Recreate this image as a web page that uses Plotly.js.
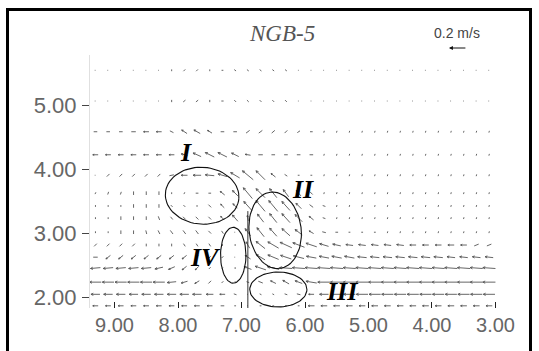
<!DOCTYPE html>
<html><head><meta charset="utf-8">
<script src="https://cdn.plot.ly/plotly-3.0.1.min.js"></script>
<style>html,body{margin:0;padding:0;background:#fff}#chart{width:539px;height:351px}</style>
</head><body><div id="chart"></div>
<script>
// ---- data ----
const colX = [9.3,9.1,8.9,8.7,8.5,8.3,8.1,7.9,7.7,7.5,7.3,7.1,6.9,6.7,6.5,6.3,6.1,5.9,5.7,5.5,5.3,5.1,4.9,4.7,4.5,4.3,4.1,3.9,3.7,3.5,3.3,3.1];
const rowY = [5.55,5.07,4.59,4.23,3.91,3.63,3.43,3.24,3.02,2.82,2.63,2.46,2.24,2.05,1.87];
// U: velocity along +x (m/s), V: velocity along +y (m/s)
const U = [
[0.01,0.01,0.01,0.01,0.01,0.01,0,0.02,0.02,0,0.02,0.02,0.02,0.02,0.02,0.02,0.01,0.01,0.01,0.01,0.01,0.01,0.01,0.01,0.01,0.01,0.01,0.01,0.01,0.01,0.01,0.01],
[0.01,0.01,0.01,0.01,0.01,0.01,0,0.025,0.025,0,0.025,0.02,0.02,0.02,0.02,0.02,0.01,0.01,0.01,0.01,0.01,0.01,0.01,0.01,0.01,0.01,0.01,0.01,0.01,0.01,0.01,0.01],
[0.04,0.04,0.04,0.05,0.06,0.06,0.04,0.06,0.07,0.05,0.04,0.04,0.04,0.04,0.035,0.03,0.03,0.03,0.005,0.005,0.005,0.005,0.005,0.005,0.005,0.005,0.005,0.005,0.005,0.005,0.005,0.005],
[0.06,0.06,0.06,0.06,0.06,0.06,0.06,0.07,0.09,0.1,0.1,0.08,0.06,0.05,0.04,0.04,0.04,0.04,0.005,0.005,0.005,0.005,0.005,0.005,0.005,0.005,0.005,0.005,0.005,0.005,0.005,0.005],
[0.01,0.03,0.03,0.03,0.03,0.03,0.05,0.07,0.09,0.1,0.1,0.1,0.12,0.1,0.05,0.03,0.02,0.02,0.005,0.005,0.005,0.005,0.005,0.005,0.005,0.005,0.005,0.005,0.005,0.005,0.005,0.005],
[0.01,0.01,0.01,0,0,0,0,0.01,0.03,0.03,0.05,0.06,0.1,0.1,0.08,0.06,0.05,0.03,0.005,0.005,0.005,0.005,0.005,0.005,0.005,0.005,0.005,0.005,0.005,0.005,0.005,0.005],
[0,0,0,0,0,0,0.02,0.02,0.02,0.03,0.04,0.05,0.09,0.1,0.1,0.09,0.06,0.04,0.03,0.005,0.005,0.005,0.005,0.005,0.005,0.005,0.005,0.005,0.005,0.005,0.005,0.005],
[0,0,0,0,0,-0.015,-0.025,-0.03,-0.03,-0.03,0.04,0.06,0.01,0.07,0.08,0.09,0.08,0.05,0.03,0.005,0.005,0.005,0.005,0.005,0.005,0.005,0.005,0.005,0.005,0.005,0.005,0.005],
[0,0,0,0,-0.01,-0.02,-0.03,-0.03,-0.03,-0.03,-0.02,0,0.06,0.08,0.08,0.09,0.08,0.05,0.04,0.03,0.02,0.02,0.02,0.005,0.005,0.005,0.005,0.005,0.005,0.005,0.005,0.005],
[0.03,0.03,0.03,0.03,0,0,0,-0.02,-0.02,-0.02,0,0,0.04,0.1,0.12,0.13,0.13,0.12,0.1,0.09,0.08,0.08,0.08,0.08,0.08,0.07,0.07,0.07,0.07,0.07,0.05,0.05],
[0.05,0.05,0.05,0.05,0.05,0.05,0.05,0.05,0.03,0.02,0.02,0,0.06,0.1,0.12,0.12,0.12,0.11,0.11,0.11,0.11,0.1,0.1,0.1,0.1,0.1,0.1,0.1,0.09,0.09,0.09,0.09],
[0.11,0.11,0.11,0.11,0.11,0.09,0.07,0.05,0.04,0.02,0.01,0,0.08,0.12,0.13,0.14,0.14,0.14,0.14,0.14,0.14,0.14,0.14,0.14,0.14,0.14,0.14,0.14,0.14,0.14,0.14,0.14],
[0.13,0.13,0.13,0.13,0.13,0.13,0.1,0.07,0.05,0.03,0.02,0,0.03,0.05,0.06,0.07,0.08,0.12,0.14,0.14,0.14,0.14,0.14,0.14,0.14,0.14,0.14,0.14,0.14,0.14,0.14,0.14],
[0.1,0.1,0.1,0.1,0.1,0.1,0.1,0.1,0.1,0.08,0.06,0.03,0.01,0.02,0.02,0.03,0.04,0.06,0.1,0.13,0.13,0.13,0.13,0.13,0.13,0.13,0.13,0.13,0.13,0.13,0.13,0.13],
[0.06,0.06,0.06,0.06,0.06,0.06,0.06,0.06,0.06,0.06,0.04,0.02,0.01,0.02,0.02,0.02,0.02,0.07,0.07,0.07,0.07,0.07,0.07,0.07,0.07,0.07,0.07,0.07,0.07,0.07,0.07,0.07]
];
const V = [
[0,0,0,0,0,0,0.02,-0.02,-0.02,0.02,0,0.015,0.015,0.015,0.015,0.015,0,0,0,0,0,0,0,0,0,0,0,0,0,0,0,0],
[0,0,0,0,0,0,0.025,-0.02,-0.02,0.025,0,0.02,0.02,0.02,0.02,0.02,0,0,0,0,0,0,0,0,0,0,0,0,0,0,0,0],
[0,0,0,0,0,0,0.02,0.04,0.04,0.03,0,0,-0.03,-0.03,-0.03,-0.03,-0.02,0,-0.02,-0.02,-0.02,-0.02,-0.02,-0.02,-0.02,-0.02,-0.02,-0.02,-0.02,-0.02,-0.02,-0.02],
[0,0,0,0,0,0,0,0.02,0.04,0.05,0.05,0.04,0.01,0,0,0,0,0,-0.02,-0.02,-0.02,-0.02,-0.02,-0.02,-0.02,-0.02,-0.02,-0.02,-0.02,-0.02,-0.02,-0.02],
[0,-0.03,-0.03,-0.03,-0.03,-0.03,-0.01,0,0,0.01,0.03,0.06,0.1,0.1,0.04,0.02,0,0,-0.02,-0.02,-0.02,-0.02,-0.02,-0.02,-0.02,-0.02,-0.02,-0.02,-0.02,-0.02,-0.02,-0.02],
[-0.02,-0.03,-0.03,-0.04,-0.04,-0.04,-0.02,-0.02,0,0,0.04,0.06,0.12,0.1,0.1,0.08,0.06,0.03,-0.02,-0.02,-0.02,-0.02,-0.02,-0.02,-0.02,-0.02,-0.02,-0.02,-0.02,-0.02,-0.02,-0.02],
[-0.02,-0.02,-0.02,-0.04,-0.04,-0.04,0.02,0.02,0,0.03,0.04,0.05,0.1,0.12,0.12,0.1,0.06,0.03,0.01,-0.02,-0.02,-0.02,-0.02,-0.02,-0.02,-0.02,-0.02,-0.02,-0.02,-0.02,-0.02,-0.02],
[-0.02,-0.02,-0.04,-0.04,-0.04,-0.04,-0.03,-0.03,-0.03,-0.03,0.04,0.07,0.06,0.09,0.1,0.1,0.08,0.04,0.01,-0.02,-0.02,-0.02,-0.02,-0.02,-0.02,-0.02,-0.02,-0.02,-0.02,-0.02,-0.02,-0.02],
[-0.02,-0.02,-0.04,-0.04,-0.04,-0.04,-0.04,-0.04,-0.04,-0.03,-0.03,-0.01,0.08,0.1,0.09,0.08,0.06,0.03,0.01,0,0,0,0,-0.02,-0.02,-0.02,-0.02,-0.02,-0.02,-0.02,-0.02,-0.02],
[-0.03,-0.03,-0.03,-0.03,-0.03,-0.03,-0.03,-0.03,-0.03,-0.03,-0.02,0.02,0.07,0.08,0.07,0.06,0.05,0.04,0.03,0.02,0.01,0.01,0.01,0.01,0.01,0,0,0,0,0,-0.02,-0.02],
[0,-0.04,-0.04,-0.04,-0.04,-0.04,-0.04,-0.04,-0.03,-0.02,-0.02,0.01,0.04,0.06,0.05,0.04,0.03,0.02,0.02,0.02,0.02,0.01,0.01,0.01,0.01,0.01,0.01,0.01,0.01,0.01,0.01,0.01],
[-0.01,-0.01,-0.01,-0.01,-0.01,-0.02,-0.03,-0.04,-0.04,-0.02,-0.01,0.02,0.03,0.04,0.03,0.01,0.01,0.01,0.01,0.01,0.01,0.01,0.01,0.01,0.01,0.01,0.01,0.01,0.01,0.01,0.01,0.01],
[0,0,0,0,0,0,-0.01,-0.02,-0.03,-0.03,-0.02,0.02,0.01,0.02,0.03,0.04,0.03,0.02,0,0,0,0,0,0,0,0,0,0,0,0,0,0],
[0,0,0,0,0,0,0,0,0,0,0,0.01,0,0.01,0.01,0.01,0.01,0,0,0,0,0,0,0,0,0,0,0,0,0,0,0],
[0,0,0,0,0,0,0,0,0,0,0,0,0,0,0,0,0,0,0,0,0,0,0,0,0,0,0,0,0,0,0,0]
];
const xTickVals = [9,8,7,6,5,4,3];
const xTickText = ['9.00','8.00','7.00','6.00','5.00','4.00','3.00'];
const yTickVals = [2,3,4,5];
const yTickText = ['2.00','3.00','4.00','5.00'];
const zoneNames = ['I','II','III','IV'];
const zoneCX = [7.62,6.47,6.42,7.13];
const zoneCY = [3.59,3.05,2.125,2.66];
const zoneRX = [0.58,0.41,0.45,0.2];
const zoneRY = [0.445,0.6,0.273,0.437];
const zoneTilt = [-4,7,0,0];
const labelX = [7.87,6.03,5.42,7.57];
const labelY = [4.26,3.68,2.10,2.62];
const scaleSpeed = 0.2; // m/s reference arrow
const titleText = 'NGB-5';

// ---- geometry helpers ----
const xr = [9.386, 2.929], yr = [1.836, 5.789];
const W = 539, H = 351, mL = 90, mR = 39, mT = 55, mB = 43;
const plotW = W - mL - mR, plotH = H - mT - mB;
const pxX = plotW / (xr[0] - xr[1]);
const pxY = plotH / (yr[1] - yr[0]);
const PX_PER_MS = 90;

function arrow(xs, ys, x, y, u, v) {
  const sx = u * PX_PER_MS, sy = v * PX_PER_MS; // px along +x data, +y data
  const L = Math.hypot(sx, sy);
  if (L < 1) { xs.push(x, x + 0.7 / pxX, null); ys.push(y, y, null); return; }
  const tx = x - sx / pxX / 2, ty = y - sy / pxY / 2;
  const hx = tx + sx / pxX, hy = ty + sy / pxY;
  xs.push(tx, hx, null); ys.push(ty, hy, null);
  if (L > 5) {
    const h = Math.min(2.6, L * 0.3), a = 0.45;
    const dx = sx / L, dy = sy / L;
    for (const s of [1, -1]) {
      const bx = -h * (dx * Math.cos(a) - s * dy * Math.sin(a));
      const by = -h * (dy * Math.cos(a) + s * dx * Math.sin(a));
      xs.push(hx, hx + bx / pxX, null); ys.push(hy, hy + by / pxY, null);
    }
  }
}

const ax = [], ay = [];
rowY.forEach((y, r) => colX.forEach((x, c) => arrow(ax, ay, x, y, U[r][c], V[r][c])));

const traces = [{
  type: 'scatter', mode: 'lines', x: ax, y: ay,
  line: {color: '#555', width: 0.9}, hoverinfo: 'skip', showlegend: false
}];

// zones (ellipses)
zoneNames.forEach((n, k) => {
  const ex = [], ey = [];
  const A = zoneTilt[k] * Math.PI / 180;
  for (let t = 0; t <= 72; t++) {
    const th = t / 72 * 2 * Math.PI;
    const px = zoneRX[k] * pxX * Math.cos(th), py = zoneRY[k] * pxY * Math.sin(th);
    const sxp = px * Math.cos(A) - py * Math.sin(A); // screen right
    const syp = px * Math.sin(A) + py * Math.cos(A); // screen up
    ex.push(zoneCX[k] - sxp / pxX); ey.push(zoneCY[k] + syp / pxY);
  }
  traces.push({type: 'scatter', mode: 'lines', x: ex, y: ey, line: {color: '#111', width: 1.1},
    hoverinfo: 'skip', showlegend: false});
});

const annotations = zoneNames.map((n, k) => ({
  x: labelX[k], y: labelY[k], xref: 'x', yref: 'y', text: '<b><i>' + n + '</i></b>', showarrow: false,
  font: {family: 'Liberation Serif', size: 26, color: '#000'}
}));
annotations.push({x: (282 - mL) / plotW, y: (mT + plotH - 33) / plotH, xref: 'paper', yref: 'paper',
  xanchor: 'center', yanchor: 'middle',
  text: '<i>' + titleText + '</i>', showarrow: false, font: {family: 'Liberation Serif', size: 23, color: '#555'}});
annotations.push({x: (457 - mL) / plotW, y: (mT + plotH - 33) / plotH, xref: 'paper', yref: 'paper',
  xanchor: 'center', yanchor: 'middle',
  text: scaleSpeed + ' m/s', showarrow: false, font: {family: 'Liberation Sans', size: 14, color: '#444'}});
// reference (scale) arrow: 0.2 m/s drawn with the same px-per-(m/s) scale as the field
const scaleTailX = 3.45, scaleTailPy = 48;
const scaleLenPx = scaleSpeed * PX_PER_MS;
const tailPaperX = (xr[0] - scaleTailX) / (xr[0] - xr[1]);
annotations.push({x: tailPaperX - scaleLenPx / plotW, y: (mT + plotH - scaleTailPy) / plotH,
  xref: 'paper', yref: 'paper', ax: scaleLenPx, ay: 0, text: '', showarrow: true,
  arrowhead: 2, arrowsize: 0.8, arrowwidth: 1, arrowcolor: '#111', standoff: 0, startstandoff: 0});

const shapes = [
  {type: 'line', xref: 'x', yref: 'y', x0: 6.9, x1: 6.9, y0: 3.35, y1: yr[0], line: {color: '#333', width: 1}},
  {type: 'rect', xref: 'paper', yref: 'paper', x0: (7.5 - mL) / plotW, x1: (530.5 - mL) / plotW,
   y0: -0.35, y1: (mT + plotH - 9.5) / plotH, line: {color: '#000', width: 3}}
];

const layout = {
  width: W, height: H, margin: {l: mL, r: mR, t: mT, b: mB},
  paper_bgcolor: '#fff', plot_bgcolor: '#fff', showlegend: false,
  xaxis: {range: xr, tickvals: xTickVals, ticktext: xTickText, ticks: 'inside', ticklen: 6, tickwidth: 1,
    tickcolor: '#222', showline: false, showgrid: false, zeroline: false, ticklabelstandoff: 3,
    tickfont: {family: 'Liberation Sans', size: 20, color: '#666'}},
  yaxis: {range: yr, tickvals: yTickVals, ticktext: yTickText, ticks: 'outside', ticklen: 7, tickwidth: 1.5,
    tickcolor: '#444', showline: true, linecolor: '#e0e0e0', linewidth: 1, showgrid: false, zeroline: false,
    ticklabelstandoff: 1,
    tickfont: {family: 'Liberation Sans', size: 22, color: '#666'}},
  annotations: annotations, shapes: shapes
};
Plotly.newPlot('chart', traces, layout, {staticPlot: true, displayModeBar: false});
</script></body></html>
